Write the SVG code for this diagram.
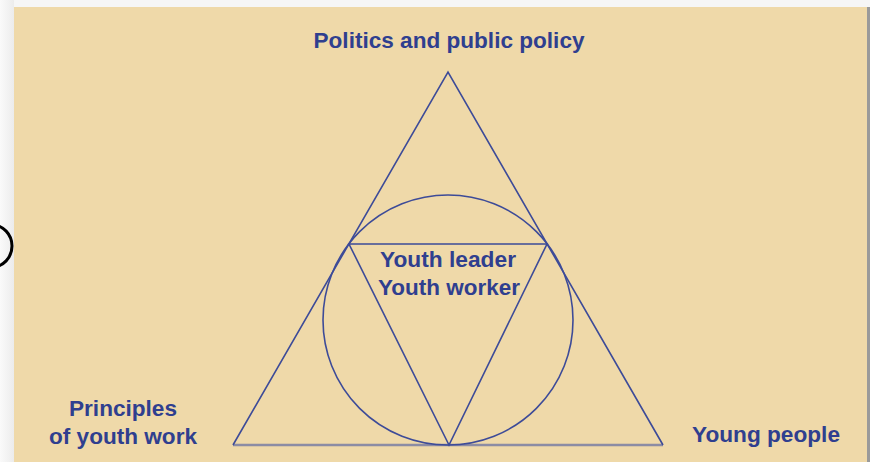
<svg xmlns="http://www.w3.org/2000/svg" width="870" height="462" viewBox="0 0 870 462">
<defs>
<linearGradient id="lg" x1="0" y1="0" x2="1" y2="0">
<stop offset="0" stop-color="#fafafa"/><stop offset="1" stop-color="#ececec"/>
</linearGradient>
<style>
.ln{fill:none;stroke:#3d4b98;stroke-width:1.6}
.t{font-family:"Liberation Sans",Arial,sans-serif;font-weight:bold;fill:#2f3f8f;font-size:22px}
</style>
</defs>
<rect width="870" height="462" fill="#f6f6f6"/>
<rect x="0" y="0" width="14" height="462" fill="url(#lg)"/>
<ellipse cx="-8" cy="246" rx="20" ry="21" fill="none" stroke="#000" stroke-width="3"/>
<rect x="14" y="7" width="853" height="455" fill="#efd9a9"/>
<rect x="867" y="7" width="3" height="455" fill="#9a9a9a"/>
<g id="connectors">
<line x1="233" y1="445" x2="663" y2="445" stroke="#8c8ca4" stroke-width="2.4"/>
<polyline class="ln" points="233,445 448,72 663,445"/>
<circle class="ln" cx="448" cy="320" r="125"/>
<polygon class="ln" points="349,244 547,244 449,445"/>
</g>
<g id="top"><text class="t" x="449" y="48" text-anchor="middle" textLength="271" lengthAdjust="spacingAndGlyphs">Politics and public policy</text></g>
<g id="center"><text class="t" x="448" y="267" text-anchor="middle" textLength="136" lengthAdjust="spacingAndGlyphs">Youth leader</text><text class="t" x="449" y="295" text-anchor="middle" textLength="142" lengthAdjust="spacingAndGlyphs">Youth worker</text></g>
<g id="left"><text class="t" x="123" y="416" text-anchor="middle" textLength="108" lengthAdjust="spacingAndGlyphs">Principles</text><text class="t" x="123" y="444" text-anchor="middle" textLength="148" lengthAdjust="spacingAndGlyphs">of youth work</text></g>
<g id="right"><text class="t" x="766" y="442" text-anchor="middle" textLength="148" lengthAdjust="spacingAndGlyphs">Young people</text></g>
</svg>
